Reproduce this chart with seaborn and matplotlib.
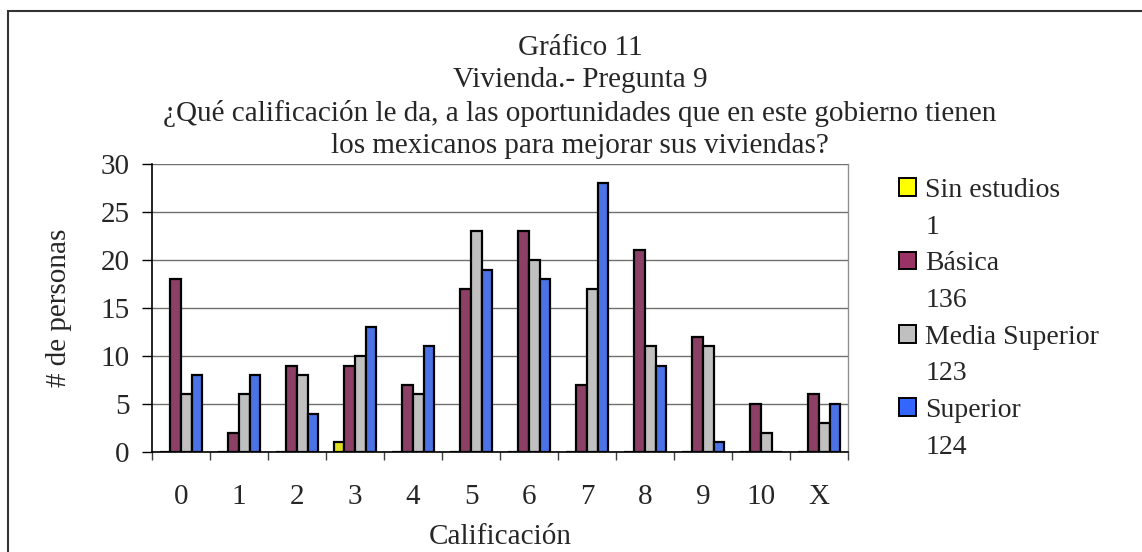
import matplotlib
matplotlib.use('Agg')
import matplotlib.pyplot as plt
from matplotlib.patches import Patch, Rectangle
from matplotlib.ticker import FixedLocator
import pandas as pd
import seaborn as sns

# data
calificacion = ['0', '1', '2', '3', '4', '5', '6', '7', '8', '9', '10', 'X']
sin_estudios = [0, 0, 0, 1, 0, 0, 0, 0, 0, 0, 0, 0]
basica = [18, 2, 9, 9, 7, 17, 23, 7, 21, 12, 5, 6]
media_superior = [6, 6, 8, 10, 6, 23, 20, 17, 11, 11, 2, 3]
superior = [8, 8, 4, 13, 11, 19, 18, 28, 9, 1, 0, 5]
niveles = ['Sin estudios', 'Básica', 'Media Superior', 'Superior']
totales = [1, 136, 123, 124]
colores = ['#FFFF00', '#993366', '#C0C0C0', '#3366FF']

df = pd.DataFrame({
    'Calificación': calificacion * 4,
    'personas': sin_estudios + basica + media_superior + superior,
    'nivel': [n for n in niveles for _ in calificacion],
})

sns.set_style('white')
plt.rcParams['font.family'] = ['Liberation Serif', 'DejaVu Serif']

fig = plt.figure(figsize=(11.42, 5.52), dpi=100)
ax = fig.add_axes([0.1331, 0.1812, 0.6095, 0.5217])

sns.barplot(data=df, x='Calificación', y='personas', hue='nivel',
            order=calificacion, hue_order=niveles, palette=colores,
            width=0.736, edgecolor='black', linewidth=1.6,
            legend=False, ax=ax)

ax.set_ylim(0, 30)
ax.set_xlim(-0.5, len(calificacion) - 0.5)
ax.set_yticks(range(0, 31, 5))
ax.yaxis.grid(True, color='#707070', linewidth=1.0)
ax.set_axisbelow(True)

for s in ['left', 'bottom']:
    ax.spines[s].set_color('black')
    ax.spines[s].set_linewidth(1.2)
ax.spines['top'].set_visible(False)
ax.spines['right'].set_color('#909090')
ax.spines['right'].set_linewidth(1.0)

ax.tick_params(axis='y', direction='out', length=7, width=1, color='black',
               labelsize=21, pad=9, left=True)
ax.tick_params(axis='x', which='major', length=0, labelsize=21, pad=23)
ax.xaxis.set_minor_locator(FixedLocator([i - 0.5 for i in range(len(calificacion) + 1)]))
ax.tick_params(axis='x', which='minor', direction='out', length=6, width=1,
               color='#404040', bottom=True)

ax.set_xlabel('Calificación', fontsize=21, labelpad=10)
ax.set_ylabel('# de personas', fontsize=21)
ax.yaxis.set_label_coords(-0.115, 0.5)

fig.text(0.508, 0.824,
         'Gráfico 11\nVivienda.- Pregunta 9\n'
         '¿Qué calificación le da, a las oportunidades que en este gobierno tienen\n'
         'los mexicanos para mejorar sus viviendas?',
         ha='center', va='center', fontsize=21, linespacing=1.31)

handles, labels = [], []
for nivel, total, color in zip(niveles, totales, colores):
    handles.append(Patch(facecolor=color, edgecolor='black', linewidth=1.4))
    labels.append(nivel)
    handles.append(Patch(facecolor='none', edgecolor='none'))
    labels.append(str(total))
fig.legend(handles, labels, loc='upper left', bbox_to_anchor=(885 / 1142, 1 - 164 / 552),
           frameon=False, fontsize=20, borderpad=0, handlelength=0.6,
           handleheight=0.6, handletextpad=0.35, labelspacing=0.42)

fig.patches.append(Rectangle((8 / 1142, -0.05), 1.1, 1.05 - 11 / 552,
                             transform=fig.transFigure, fill=False,
                             edgecolor='#333333', linewidth=1.5))

fig.savefig('out.png', dpi=100)
